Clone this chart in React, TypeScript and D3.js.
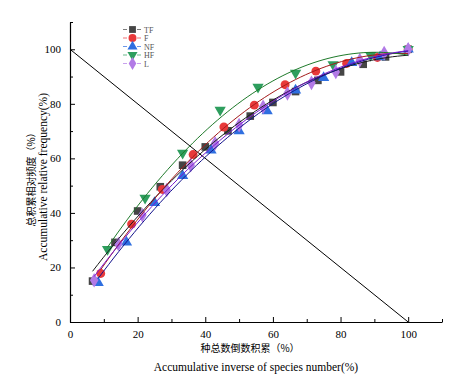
import React, { useRef, useEffect } from 'react';
import * as d3 from 'd3';

// Accumulative inverse of species number (%) for each forest type
const tfX = [6.67, 13.3, 20, 26.7, 33.3, 40, 46.7, 53.3, 60, 66.7, 73.3, 80, 86.7, 93.3, 100];
const tfY = [15, 29.2, 40.7, 49.6, 57.5, 64.2, 70.1, 75.5, 80.5, 84.5, 88.6, 91.7, 94.5, 97.2, 100];

const fX = [9.09, 18.2, 27.3, 36.4, 45.5, 54.5, 63.6, 72.7, 81.8, 90.9, 100];
const fY = [17.8, 35.9, 48.6, 61.4, 71.5, 79.5, 87, 92, 94.8, 97, 100];

const nfX = [8.33, 16.7, 25, 33.3, 41.7, 50, 58.3, 66.7, 75, 83.3, 91.7, 100];
const nfY = [14.4, 29.2, 43.7, 53.6, 63, 70, 77.4, 85, 89.6, 95.1, 97.2, 100];

const hfX = [11.1, 22.2, 33.3, 44.4, 55.6, 66.7, 77.8, 88.9, 100];
const hfY = [26.7, 45.5, 62, 77.7, 86.2, 91.3, 94.4, 97.8, 100];

const lX = [7.14, 14.3, 21.4, 28.6, 35.7, 42.9, 50, 57.1, 64.3, 71.4, 78.6, 85.7, 92.9, 100];
const lY = [15.3, 28.6, 39.2, 48.4, 57.5, 65.5, 72.2, 78.9, 83.8, 87.7, 91.7, 96, 98.6, 100];

const seriesNames = ['TF', 'F', 'NF', 'HF', 'L'];
const majorTicks = [0, 20, 40, 60, 80, 100];
const minorTicks = [10, 30, 50, 70, 90, 110];

const series = [
  { name: 'TF', xs: tfX, ys: tfY, symbol: d3.symbolSquare, fill: '#454545', line: '#1a1a1a', size: 58 },
  { name: 'F', xs: fX, ys: fY, symbol: d3.symbolCircle, fill: '#e8393a', line: '#a31a1a', size: 62 },
  { name: 'NF', xs: nfX, ys: nfY, symbol: d3.symbolTriangle, fill: '#2f6fe0', line: '#12128c', size: 55 },
  { name: 'HF', xs: hfX, ys: hfY, symbol: d3.symbolTriangle, fill: '#2e9e5e', line: '#1e7a2a', size: 55, flip: true },
  { name: 'L', xs: lX, ys: lY, symbol: d3.symbolDiamond, fill: '#b27ae6', line: '#7a1ad0', size: 62 },
];

// least squares quadratic fit
function quadFit(xs: number[], ys: number[]) {
  const n = xs.length;
  let s1 = 0, s2 = 0, s3 = 0, s4 = 0, t0 = 0, t1 = 0, t2 = 0;
  for (let i = 0; i < n; i++) {
    const x = xs[i], y = ys[i];
    s1 += x; s2 += x * x; s3 += x * x * x; s4 += x * x * x * x;
    t0 += y; t1 += x * y; t2 += x * x * y;
  }
  const m = [
    [n, s1, s2, t0],
    [s1, s2, s3, t1],
    [s2, s3, s4, t2],
  ];
  for (let i = 0; i < 3; i++) {
    for (let k = i + 1; k < 3; k++) {
      const f = m[k][i] / m[i][i];
      for (let j = i; j < 4; j++) m[k][j] -= f * m[i][j];
    }
  }
  const c = [0, 0, 0];
  for (let i = 2; i >= 0; i--) {
    let s = m[i][3];
    for (let j = i + 1; j < 3; j++) s -= m[i][j] * c[j];
    c[i] = s / m[i][i];
  }
  return (x: number) => c[0] + c[1] * x + c[2] * x * x;
}

const W = 462;
const H = 390;
const serif = '"Liberation Serif", "DejaVu Serif", serif';
const cjk = '"Noto Sans CJK SC", sans-serif';

const Chart = () => {
  const svgRef = useRef<SVGSVGElement>(null);

  useEffect(() => {
    const svg = d3.select(svgRef.current);
    svg.selectAll('*').remove();

    const x = d3.scaleLinear().domain([0, 110]).range([70, 442]);
    const y = d3.scaleLinear().domain([0, 110]).range([322, 22]);

    // axes
    const xg = svg.append('g').attr('transform', `translate(0,${y(0)})`);
    xg.call(d3.axisBottom(x).tickValues(majorTicks).tickSizeInner(-5).tickSizeOuter(0).tickPadding(8).tickFormat(d3.format('d')));
    xg.append('g').call(d3.axisBottom(x).tickValues(minorTicks).tickSizeInner(-3).tickSizeOuter(0).tickFormat(() => ''))
      .select('.domain').remove();

    const yg = svg.append('g').attr('transform', `translate(${x(0)},0)`);
    yg.call(d3.axisLeft(y).tickValues(majorTicks).tickSizeInner(-5).tickSizeOuter(0).tickPadding(9).tickFormat(d3.format('d')));
    yg.append('g').call(d3.axisLeft(y).tickValues(minorTicks).tickSizeInner(-3).tickSizeOuter(0).tickFormat(() => ''))
      .select('.domain').remove();

    svg.selectAll('.domain').attr('stroke', '#000').attr('stroke-width', 1.2);
    svg.selectAll('.tick line').attr('stroke', '#000');
    svg.selectAll('.tick text').attr('font-family', serif).attr('font-size', 11).attr('fill', '#000');

    // diagonal reference line
    svg.append('line')
      .attr('x1', x(0)).attr('y1', y(100))
      .attr('x2', x(100)).attr('y2', y(0))
      .attr('stroke', '#000').attr('stroke-width', 1);

    // markers
    series.forEach((s) => {
      const sym = d3.symbol().type(s.symbol).size(s.size);
      svg.append('g').selectAll('path')
        .data(s.xs.map((v, i) => [v, s.ys[i]]))
        .join('path')
        .attr('d', sym as any)
        .attr('transform', (d) => `translate(${x(d[0])},${y(d[1])})${s.flip ? ' rotate(180)' : ''}`)
        .attr('fill', s.fill);
    });

    // fitted curves
    series.forEach((s) => {
      const f = quadFit(s.xs, s.ys);
      const x0 = s.xs[0], x1 = s.xs[s.xs.length - 1];
      const pts = d3.range(0, 61).map((i) => x0 + ((x1 - x0) * i) / 60);
      const line = d3.line<number>().x((v) => x(v)).y((v) => y(f(v)));
      svg.append('path')
        .attr('d', line(pts))
        .attr('fill', 'none')
        .attr('stroke', s.line)
        .attr('stroke-width', 1);
    });

    // legend
    const lg = svg.append('g');
    seriesNames.forEach((name, i) => {
      const s = series.find((d) => d.name === name)!;
      const ly = 29.5 + i * 8.5;
      lg.append('line').attr('x1', 123).attr('x2', 142).attr('y1', ly).attr('y2', ly)
        .attr('stroke', s.fill).attr('stroke-width', 1).attr('stroke-dasharray', '4,3').attr('opacity', 0.7);
      lg.append('path')
        .attr('d', d3.symbol().type(s.symbol).size(s.size * 0.8)() as string)
        .attr('transform', `translate(132.5,${ly})${(s as any).flip ? ' rotate(180)' : ''}`)
        .attr('fill', s.fill);
      lg.append('text').attr('x', 144).attr('y', ly + 3).text(name)
        .attr('font-family', serif).attr('font-size', 8).attr('fill', '#555');
    });

    // axis titles
    svg.append('text').attr('x', 250).attr('y', 352).attr('text-anchor', 'middle').text('种总数倒数积累（%）')
      .attr('font-family', cjk).attr('font-size', 10).attr('fill', '#000');
    svg.append('text').attr('x', 256).attr('y', 371).attr('text-anchor', 'middle').text('Accumulative inverse of species number(%)')
      .attr('font-family', serif).attr('font-size', 11.5).attr('fill', '#000');

    const yt = svg.append('g').attr('transform', `translate(0,177) rotate(-90)`);
    yt.append('text').attr('x', 0).attr('y', 35).attr('text-anchor', 'middle').text('总积累相对频度（%）')
      .attr('font-family', cjk).attr('font-size', 10).attr('fill', '#000');
    yt.append('text').attr('x', 0).attr('y', 47).attr('text-anchor', 'middle').text('Accumulative relative frequency(%)')
      .attr('font-family', serif).attr('font-size', 11.5).attr('fill', '#000');
  }, []);

  return (
    <svg ref={svgRef} width={W} height={H} style={styles.chart} />
  );
};

const styles = {
  chart: {
    position: 'absolute' as const,
    left: 0,
    top: 0,
    background: '#fff',
    display: 'block',
  },
};

export default function App() {
  return <Chart />;
}
